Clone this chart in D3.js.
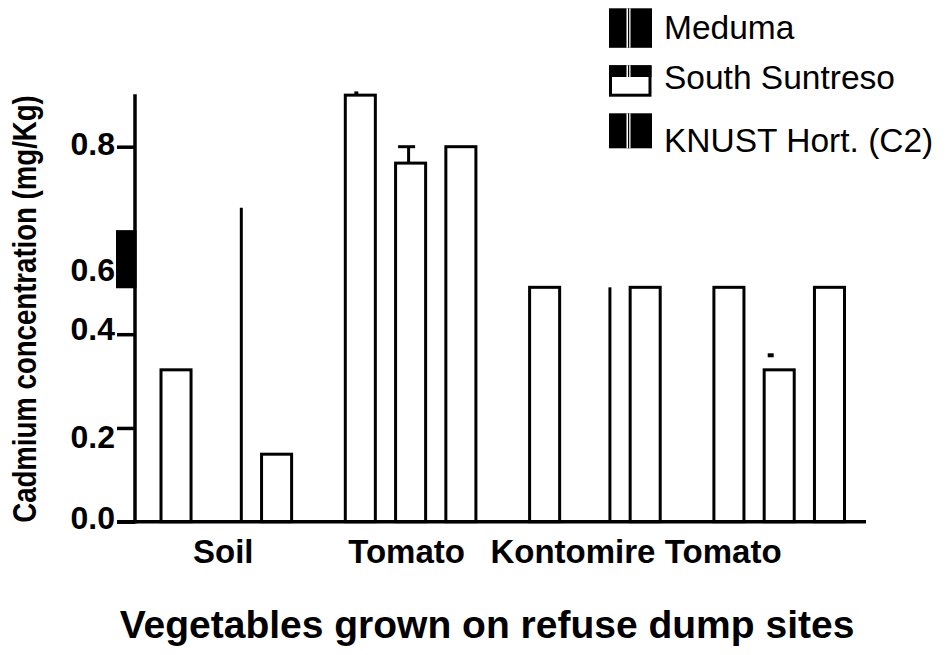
<!DOCTYPE html>
<html>
<head>
<meta charset="utf-8">
<script src="https://cdn.jsdelivr.net/npm/d3@7"></script>
<style>
  html, body { margin: 0; padding: 0; background: #fff; }
  svg { display: block; }
  text { font-family: "Liberation Sans", Arial, sans-serif; fill: #000; }
</style>
</head>
<body>
<script>
// ---------- data ----------
const groups = ["Soil", "Tomato", "Kontomire", "Tomato"];
const series = ["Meduma", "South Suntreso", "KNUST Hort. (C2)"];
const meduma        = [0.324, 0.910, 0.500, 0.500];
const southSuntreso = [0.670, 0.765, 0.500, 0.324];
const knust         = [0.144, 0.800, 0.500, 0.500];
// bars drawn only as a single right-hand edge in the original
const edgeOnly = [[0, 1], [2, 1]];           // [groupIndex, seriesIndex]
// error marks: [groupIndex, seriesIndex, upper value, kind]
const errorMarks = [[1, 0, 0.918, "stub"], [1, 1, 0.800, "cap"], [3, 1, 0.355, "dash"]];
const yTicks = [0.0, 0.2, 0.4, 0.6, 0.8];
const yTickLabels = ["0.0", "0.2", "0.4", "0.6", "0.8"];
const yAxisMax = 0.912;
const blockRange = [0.498, 0.622];  // black block on the y axis

// ---------- layout / style ----------
const W = 948, H = 655;
const axisX = 135, baseY = 521.7;
const tickLabelShift = [-4, 8, -6, 29, -3];     // label vertical nudges (px)
const groupLabelShift = [-3, -4, -22, -56];     // label horizontal nudges (px)

const svg = d3.select("body").append("svg").attr("width", W).attr("height", H);

const y = d3.scaleLinear().domain([0, 0.8]).range([baseY, 146.7]);
const xGroup = d3.scaleBand().domain(d3.range(groups.length)).range([161, 161 + 4 * 184.3]);
const xSeries = d3.scaleBand().domain(d3.range(series.length)).range([0, 130.6]).paddingInner(0.4024);
const bw = xSeries.bandwidth();

const valuesBySeries = [meduma, southSuntreso, knust];
const cells = [];
groups.forEach((g, gi) => series.forEach((s, si) => {
  cells.push({ gi, si, v: valuesBySeries[si][gi],
    edge: edgeOnly.some(e => e[0] === gi && e[1] === si) });
}));

// bars
svg.append("g").selectAll("rect").data(cells.filter(c => !c.edge)).join("rect")
  .attr("x", c => xGroup(c.gi) + xSeries(c.si))
  .attr("y", c => y(c.v))
  .attr("width", bw)
  .attr("height", c => y(0) - y(c.v))
  .attr("fill", "#fff").attr("stroke", "#000").attr("stroke-width", 3);

svg.append("g").selectAll("line").data(cells.filter(c => c.edge)).join("line")
  .attr("x1", c => xGroup(c.gi) + xSeries(c.si) + bw)
  .attr("x2", c => xGroup(c.gi) + xSeries(c.si) + bw)
  .attr("y1", c => y(c.v)).attr("y2", y(0))
  .attr("stroke", "#000").attr("stroke-width", 3);

// error marks
const eg = svg.append("g");
errorMarks.forEach(([gi, si, hi, kind]) => {
  const cx = xGroup(gi) + xSeries(si) + bw / 2;
  const top = valuesBySeries[si][gi];
  if (kind === "stub") {
    eg.append("line").attr("x1", cx - 4).attr("x2", cx - 4)
      .attr("y1", y(top)).attr("y2", y(hi)).attr("stroke", "#000").attr("stroke-width", 4);
  } else if (kind === "cap") {
    eg.append("line").attr("x1", cx - 2).attr("x2", cx - 2)
      .attr("y1", y(top)).attr("y2", y(hi)).attr("stroke", "#000").attr("stroke-width", 3);
    eg.append("line").attr("x1", cx - 12.5).attr("x2", cx + 4.5)
      .attr("y1", y(hi)).attr("y2", y(hi)).attr("stroke", "#000").attr("stroke-width", 3);
  } else {
    eg.append("line").attr("x1", cx - 11.5).attr("x2", cx - 5.5)
      .attr("y1", y(hi)).attr("y2", y(hi)).attr("stroke", "#000").attr("stroke-width", 4);
  }
});

// y axis
const yAxis = d3.axisLeft(y).tickValues(yTicks).tickSize(18).tickSizeOuter(0).tickPadding(2)
  .tickFormat((d, i) => yTickLabels[i]);
const ya = svg.append("g").attr("transform", `translate(${axisX},0)`).call(yAxis);
ya.select(".domain").remove();
ya.selectAll(".tick line").attr("stroke", "#000").attr("stroke-width", 3.5);
ya.selectAll(".tick text")
  .attr("font-size", 32).attr("font-weight", "bold").attr("fill", "#000")
  .attr("dy", (d, i) => (0.35 * 32 + tickLabelShift[i]) + "px")
  .style("font-family", '"Liberation Sans", Arial, sans-serif');
svg.append("line").attr("x1", axisX).attr("x2", axisX)
  .attr("y1", y(yAxisMax)).attr("y2", baseY + 1.75)
  .attr("stroke", "#000").attr("stroke-width", 3.5);

// black block on y axis
svg.append("rect").attr("x", axisX - 19).attr("width", 20.5)
  .attr("y", y(blockRange[1])).attr("height", y(blockRange[0]) - y(blockRange[1]))
  .attr("fill", "#000");

// x axis
svg.append("line").attr("x1", 117).attr("x2", 866).attr("y1", baseY).attr("y2", baseY)
  .attr("stroke", "#000").attr("stroke-width", 3.5);

// group labels
svg.append("g").selectAll("text").data(groups).join("text")
  .attr("x", (d, i) => xGroup(i) + (xSeries(2) + bw) / 2 + groupLabelShift[i])
  .attr("y", 563)
  .attr("text-anchor", "middle").attr("font-size", 33).attr("font-weight", "bold")
  .text(d => d);

// titles
svg.append("text").attr("x", 487).attr("y", 638).attr("text-anchor", "middle")
  .attr("font-size", 39).attr("font-weight", "bold")
  .text("Vegetables grown on refuse dump sites");

svg.append("text").attr("transform", "translate(36,309) rotate(-90) scale(1,1.2)")
  .attr("text-anchor", "middle").attr("font-size", 27.6).attr("font-weight", "bold")
  .text("Cadmium concentration (mg/Kg)");

// legend
const lg = svg.append("g");
function solidSwatch(x0, y0, w, h) {
  lg.append("rect").attr("x", x0).attr("y", y0).attr("width", w).attr("height", h).attr("fill", "#000");
  lg.append("rect").attr("x", x0 + 17.5).attr("y", y0).attr("width", 4).attr("height", h).attr("fill", "#fff");
  lg.append("rect").attr("x", x0 + 19).attr("y", y0).attr("width", 1.2).attr("height", h).attr("fill", "#000");
}
solidSwatch(609, 8.3, 43, 39.5);
// South Suntreso swatch
lg.append("rect").attr("x", 610.5).attr("y", 66.8).attr("width", 39.5).attr("height", 28.4)
  .attr("fill", "#fff").attr("stroke", "#000").attr("stroke-width", 3);
lg.append("rect").attr("x", 609).attr("y", 65.3).attr("width", 42.5).attr("height", 11.7).attr("fill", "#000");
lg.append("rect").attr("x", 626.5).attr("y", 65.3).attr("width", 4).attr("height", 11.7).attr("fill", "#fff");
lg.append("rect").attr("x", 628).attr("y", 65.3).attr("width", 1.2).attr("height", 11.7).attr("fill", "#000");
solidSwatch(609, 113.3, 43, 35);

const legendBaselines = [39, 89, 152];
lg.selectAll("text").data(series).join("text")
  .attr("x", 664).attr("y", (d, i) => legendBaselines[i])
  .attr("font-size", 33.5).text(d => d);
</script>
</body>
</html>
